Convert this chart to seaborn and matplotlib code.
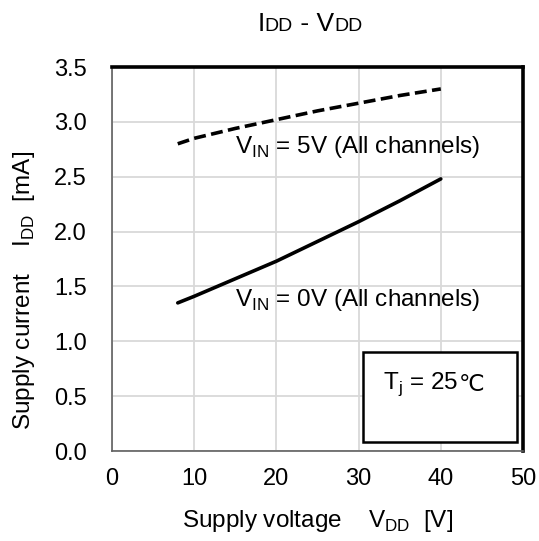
import numpy as np
import pandas as pd
import seaborn as sns
import matplotlib
matplotlib.use("Agg")
import matplotlib.pyplot as plt
from matplotlib.patches import Rectangle

# Data
vdd = [8, 10, 15, 20, 25, 30, 35, 40]
idd_vin5 = [2.80, 2.85, 2.94, 3.02, 3.10, 3.17, 3.24, 3.30]
idd_vin0 = [1.35, 1.41, 1.57, 1.73, 1.91, 2.09, 2.28, 2.48]
x_ticks = [0, 10, 20, 30, 40, 50]
y_ticks = [0.0, 0.5, 1.0, 1.5, 2.0, 2.5, 3.0, 3.5]

sns.set_theme(style="white")
plt.rcParams['font.family'] = ['Liberation Sans', 'DejaVu Sans']
plt.rcParams['mathtext.fontset'] = 'custom'
plt.rcParams['mathtext.rm'] = 'Liberation Sans'
plt.rcParams['text.color'] = 'black'
plt.rcParams['axes.labelcolor'] = 'black'

df = pd.DataFrame({
    "vdd": vdd * 2,
    "idd": idd_vin5 + idd_vin0,
    "cond": ["5V"] * len(vdd) + ["0V"] * len(vdd),
})

fig = plt.figure(figsize=(5.39, 5.41), dpi=100)
ax = fig.add_axes([112/539, 1 - 451/541, (523-112)/539, (451-67)/541])

sns.lineplot(data=df, x="vdd", y="idd", style="cond", style_order=["0V", "5V"],
             dashes={"0V": "", "5V": (3.3, 1.5)}, color="black", linewidth=2.6,
             legend=False, ax=ax)

FT = 17
FS = 17.5
ax.set_xlim(0, 50)
ax.set_ylim(0, 3.5)
ax.set_xticks(x_ticks)
ax.set_yticks(y_ticks)
ax.set_xticklabels([str(v) for v in x_ticks])
ax.set_yticklabels([f"{v:.1f}" for v in y_ticks])
ax.tick_params(axis='both', length=0, labelsize=FT, colors='black')
ax.tick_params(axis='x', pad=12)
ax.tick_params(axis='y', pad=18)
ax.grid(True, color='#d9d9d9', linewidth=1.3)
ax.set_axisbelow(True)

for s in ['top', 'right']:
    ax.spines[s].set_color('black')
    ax.spines[s].set_linewidth(2.6)
for s in ['left', 'bottom']:
    ax.spines[s].set_color('#606060')
    ax.spines[s].set_linewidth(1.2)

ax.set_xlabel(r"Supply voltage    V$_{\mathregular{DD}}$  [V]", fontsize=FS, labelpad=13)
ax.set_ylabel(r"Supply current    I$_{\mathregular{DD}}$  [mA]", fontsize=FS)
ax.yaxis.set_label_coords(-0.182, 0.417)

ax.text(15.0, 2.77, r"V$_{\mathregular{IN}}$ = 5V (All channels)", fontsize=FS,
        va='center', ha='left')
ax.text(15.0, 1.38, r"V$_{\mathregular{IN}}$ = 0V (All channels)", fontsize=FS,
        va='center', ha='left')

ax.add_patch(Rectangle((30.5, 0.08), 18.8, 0.82, fill=True, facecolor='white',
                       edgecolor='black', linewidth=1.8, zorder=5))
tj = ax.text(33.0, 0.61, r"T$_{\mathregular{j}}$ = 25", fontsize=FS, va='center',
             ha='left', zorder=6)
ax.annotate("℃", xy=(1, 0.5), xycoords=tj, fontsize=FS - 1, va='center', ha='left',
            family='DejaVu Sans', zorder=6)

# Title: "I" + "DD" + " - V" + "DD" with smaller DD on the baseline
fig.canvas.draw()
r = fig.canvas.get_renderer()
pieces = [("I", 19), ("DD", 14), (" - V", 19), ("DD", 14)]
texts = []
for s, fs in pieces:
    tt = fig.text(0, 1 - 31/541, s, fontsize=fs, ha='left', va='baseline')
    texts.append(tt)
widths = [tt.get_window_extent(r).width for tt in texts]
total = sum(widths)
start = 310 - total / 2
for tt, w in zip(texts, widths):
    tt.set_x(start / 539)
    start += w

fig.savefig("out.png", dpi=100)
